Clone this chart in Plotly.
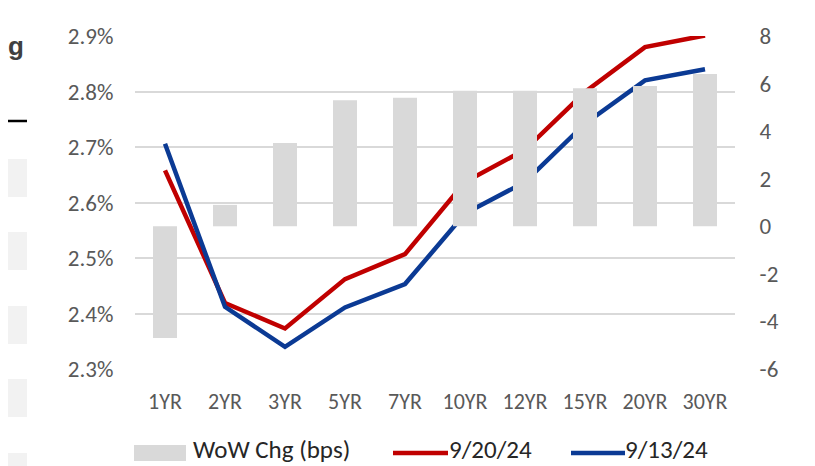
import plotly.graph_objects as go

categories = ["1YR", "2YR", "3YR", "5YR", "7YR", "10YR", "12YR", "15YR", "20YR", "30YR"]
wow_chg_bps = [-4.7, 0.9, 3.5, 5.3, 5.4, 5.7, 5.7, 5.8, 5.9, 6.4]
yield_0920 = [2.658, 2.419, 2.373, 2.462, 2.507, 2.637, 2.695, 2.799, 2.880, 2.901]
yield_0913 = [2.706, 2.412, 2.340, 2.411, 2.453, 2.580, 2.637, 2.742, 2.820, 2.840]
left_ticks = [2.3, 2.4, 2.5, 2.6, 2.7, 2.8, 2.9]
right_ticks = [-6, -4, -2, 0, 2, 4, 6, 8]
series_names = ["WoW Chg (bps)", "9/20/24", "9/13/24"]

FONT = "Carlito, 'Liberation Sans Narrow', Lato, sans-serif"
GRAY_TXT = "#595959"
BAR_C = "#D9D9D9"
RED = "#C00000"
BLUE = "#0B3A94"

# page body has an 8px margin: figure is 807x458 drawn at (8, 8)
OFF = 8
W, H = 807, 458
L, R, T, B = 127, 80, 28, 97
PW, PH = W - L - R, H - T - B


def px_x(sx):
    """screen x -> paper x"""
    return (sx - OFF - L) / PW


def px_y(sy):
    """screen y -> paper y"""
    return (H - B - (sy - OFF)) / PH


fig = go.Figure()
fig.add_trace(go.Bar(
    x=categories, y=wow_chg_bps, name=series_names[0], yaxis="y2",
    marker=dict(color=BAR_C, line=dict(width=0)), width=0.4,
))
fig.add_trace(go.Scatter(
    x=categories, y=yield_0920, name=series_names[1], mode="lines",
    line=dict(color=RED, width=4.5),
))
fig.add_trace(go.Scatter(
    x=categories, y=yield_0913, name=series_names[2], mode="lines",
    line=dict(color=BLUE, width=4.5),
))

fig.update_layout(
    width=W, height=H,
    margin=dict(l=L, r=R, t=T, b=B, autoexpand=False),
    paper_bgcolor="white", plot_bgcolor="white",
    font=dict(family=FONT, color=GRAY_TXT, size=20),
    showlegend=False,
    xaxis=dict(
        type="category", showgrid=False, showline=False, zeroline=False,
        automargin=False,
        ticks="outside", ticklen=13, tickcolor="rgba(0,0,0,0)",
        tickfont=dict(size=22, color=GRAY_TXT),
    ),
    yaxis=dict(
        range=[2.3, 2.9], tickmode="array", tickvals=left_ticks,
        ticktext=[f"{v:.1f}%" for v in left_ticks],
        showgrid=True, gridcolor=BAR_C, gridwidth=1.5,
        zeroline=False, showline=False, automargin=False,
        ticks="outside", ticklen=16, tickcolor="rgba(0,0,0,0)",
        tickfont=dict(size=23, color=GRAY_TXT),
    ),
    yaxis2=dict(
        range=[-6, 8], tickmode="array", tickvals=right_ticks,
        ticktext=[str(v) for v in right_ticks],
        overlaying="y", side="right",
        showgrid=False, zeroline=False, showline=False, automargin=False,
        ticks="outside", ticklen=19, tickcolor="rgba(0,0,0,0)",
        tickfont=dict(size=23, color=GRAY_TXT),
    ),
)

# custom legend (below the plot)
LEG_Y = 449
LEG_FONT = dict(size=25, color="#262626")
fig.add_shape(type="rect", xref="paper", yref="paper",
              x0=px_x(134), x1=px_x(186), y0=px_y(461), y1=px_y(445),
              fillcolor=BAR_C, line=dict(width=0))
fig.add_annotation(text=series_names[0], xref="paper", yref="paper",
                   x=px_x(192), y=px_y(LEG_Y), xanchor="left", yanchor="middle",
                   showarrow=False, font=LEG_FONT, borderpad=0)
fig.add_shape(type="line", xref="paper", yref="paper",
              x0=px_x(393), x1=px_x(448), y0=px_y(453), y1=px_y(453),
              line=dict(color=RED, width=4.5))
fig.add_annotation(text=series_names[1], xref="paper", yref="paper",
                   x=px_x(448), y=px_y(LEG_Y), xanchor="left", yanchor="middle",
                   showarrow=False, font=LEG_FONT, borderpad=0)
fig.add_shape(type="line", xref="paper", yref="paper",
              x0=px_x(571), x1=px_x(625), y0=px_y(453), y1=px_y(453),
              line=dict(color=BLUE, width=4.5))
fig.add_annotation(text=series_names[2], xref="paper", yref="paper",
                   x=px_x(624), y=px_y(LEG_Y), xanchor="left", yanchor="middle",
                   showarrow=False, font=LEG_FONT, borderpad=0)

# page decorations from the surrounding (cropped) document
fig.add_annotation(text="<b>g</b>", xref="paper", yref="paper",
                   x=px_x(6), y=px_y(46), xanchor="left", yanchor="middle",
                   showarrow=False,
                   font=dict(size=26, color="#404040", family="Liberation Sans, Arial"))
fig.add_shape(type="line", xref="paper", yref="paper",
              x0=px_x(8), x1=px_x(27), y0=px_y(121), y1=px_y(121),
              line=dict(color="black", width=2.5))
for (a, b) in [(159, 197), (232, 270), (306, 344), (379, 417), (453, 470)]:
    fig.add_shape(type="rect", xref="paper", yref="paper",
                  x0=px_x(8), x1=px_x(27), y0=px_y(b), y1=px_y(a),
                  fillcolor="#F2F2F2", line=dict(width=0), layer="below")

fig.write_html("out.html")
